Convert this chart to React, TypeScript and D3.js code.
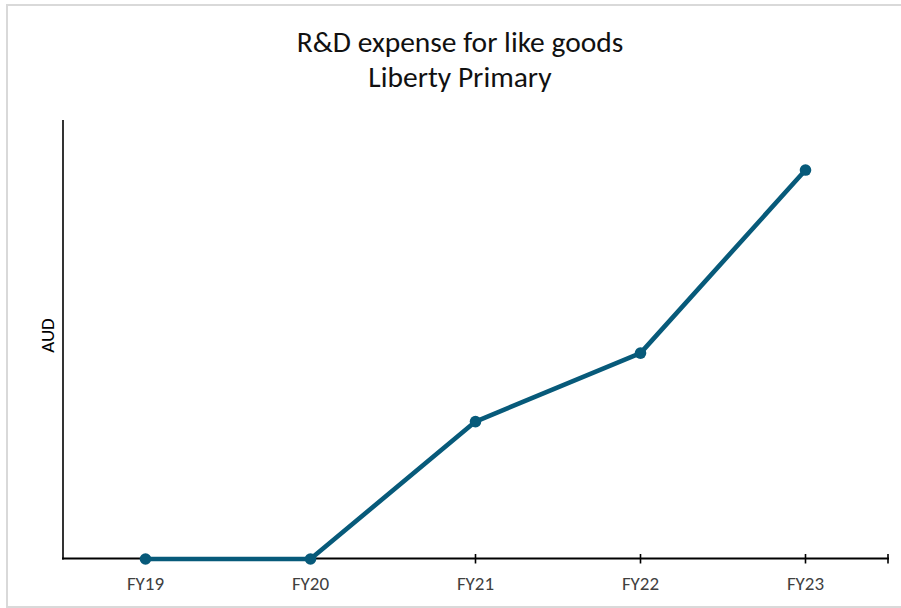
import React from "react";
import * as d3 from "d3";

// Fiscal-year categories and R&D expense (AUD, relative units)
const categories: string[] = ["FY19", "FY20", "FY21", "FY22", "FY23"];
const expense: number[] = [0, 0, 31.3, 46.9, 88.6];
const titleLines: string[] = ["R&D expense for like goods", "Liberty Primary"];
const yAxisLabel = "AUD";

const W = 901;
const H = 608;
const plot = { left: 63, right: 888, top: 120, bottom: 559 };
const lineColor = "#075a7a";
const fontFamily = "Carlito, Calibri, Lato, sans-serif";

export default function App() {
  const x = d3
    .scalePoint<string>()
    .domain(categories)
    .range([plot.left, plot.right])
    .padding(0.5);
  const y = d3.scaleLinear().domain([0, 100]).range([plot.bottom, plot.top]);

  const points = categories.map((c, i) => ({ c, v: expense[i] }));
  const linePath = d3
    .line<{ c: string; v: number }>()
    .x((d) => x(d.c) as number)
    .y((d) => y(d.v))(points) as string;

  const tickXs = [...categories.map((c) => x(c) as number), plot.right];
  const axisY = y(0) - 0.5;

  return (
    <svg
      width={W}
      height={H}
      style={{ position: "absolute", left: 0, top: 0, background: "#fff" }}
    >
      {/* chart area frame */}
      <rect x={7} y={5} width={W} height={602} fill="#fff" stroke="#d9d9d9" strokeWidth={2} />

      {/* title */}
      <g fontFamily={fontFamily} fontSize={29.5} fill="#111" textAnchor="middle">
        {titleLines.map((t, i) => (
          <text key={t} x={460} y={51.5 + i * 35}>
            {t}
          </text>
        ))}
      </g>

      {/* y axis */}
      <line x1={plot.left} x2={plot.left} y1={plot.top} y2={axisY + 1} stroke="#000" strokeWidth={1.6} />
      <text
        transform={`translate(54,${(plot.top + plot.bottom) / 2 - 4}) rotate(-90)`}
        textAnchor="middle"
        fontFamily={fontFamily}
        fontSize={19}
        fill="#000"
      >
        {yAxisLabel}
      </text>

      {/* x axis */}
      <line x1={plot.left - 1} x2={plot.right + 1} y1={axisY} y2={axisY} stroke="#000" strokeWidth={1.8} />
      {tickXs.map((tx, i) => (
        <line key={i} x1={tx} x2={tx} y1={axisY - 4.5} y2={axisY + 5} stroke="#000" strokeWidth={1.6} />
      ))}
      <g fontFamily={fontFamily} fontSize={19} fill="#404040" textAnchor="middle">
        {categories.map((c) => (
          <text key={c} x={x(c) as number} y={590}>
            {c}
          </text>
        ))}
      </g>

      {/* series */}
      <path d={linePath} fill="none" stroke={lineColor} strokeWidth={4.6} strokeLinejoin="round" strokeLinecap="round" />
      {points.map((p) => (
        <circle key={p.c} cx={x(p.c) as number} cy={y(p.v)} r={5.8} fill={lineColor} />
      ))}
    </svg>
  );
}
